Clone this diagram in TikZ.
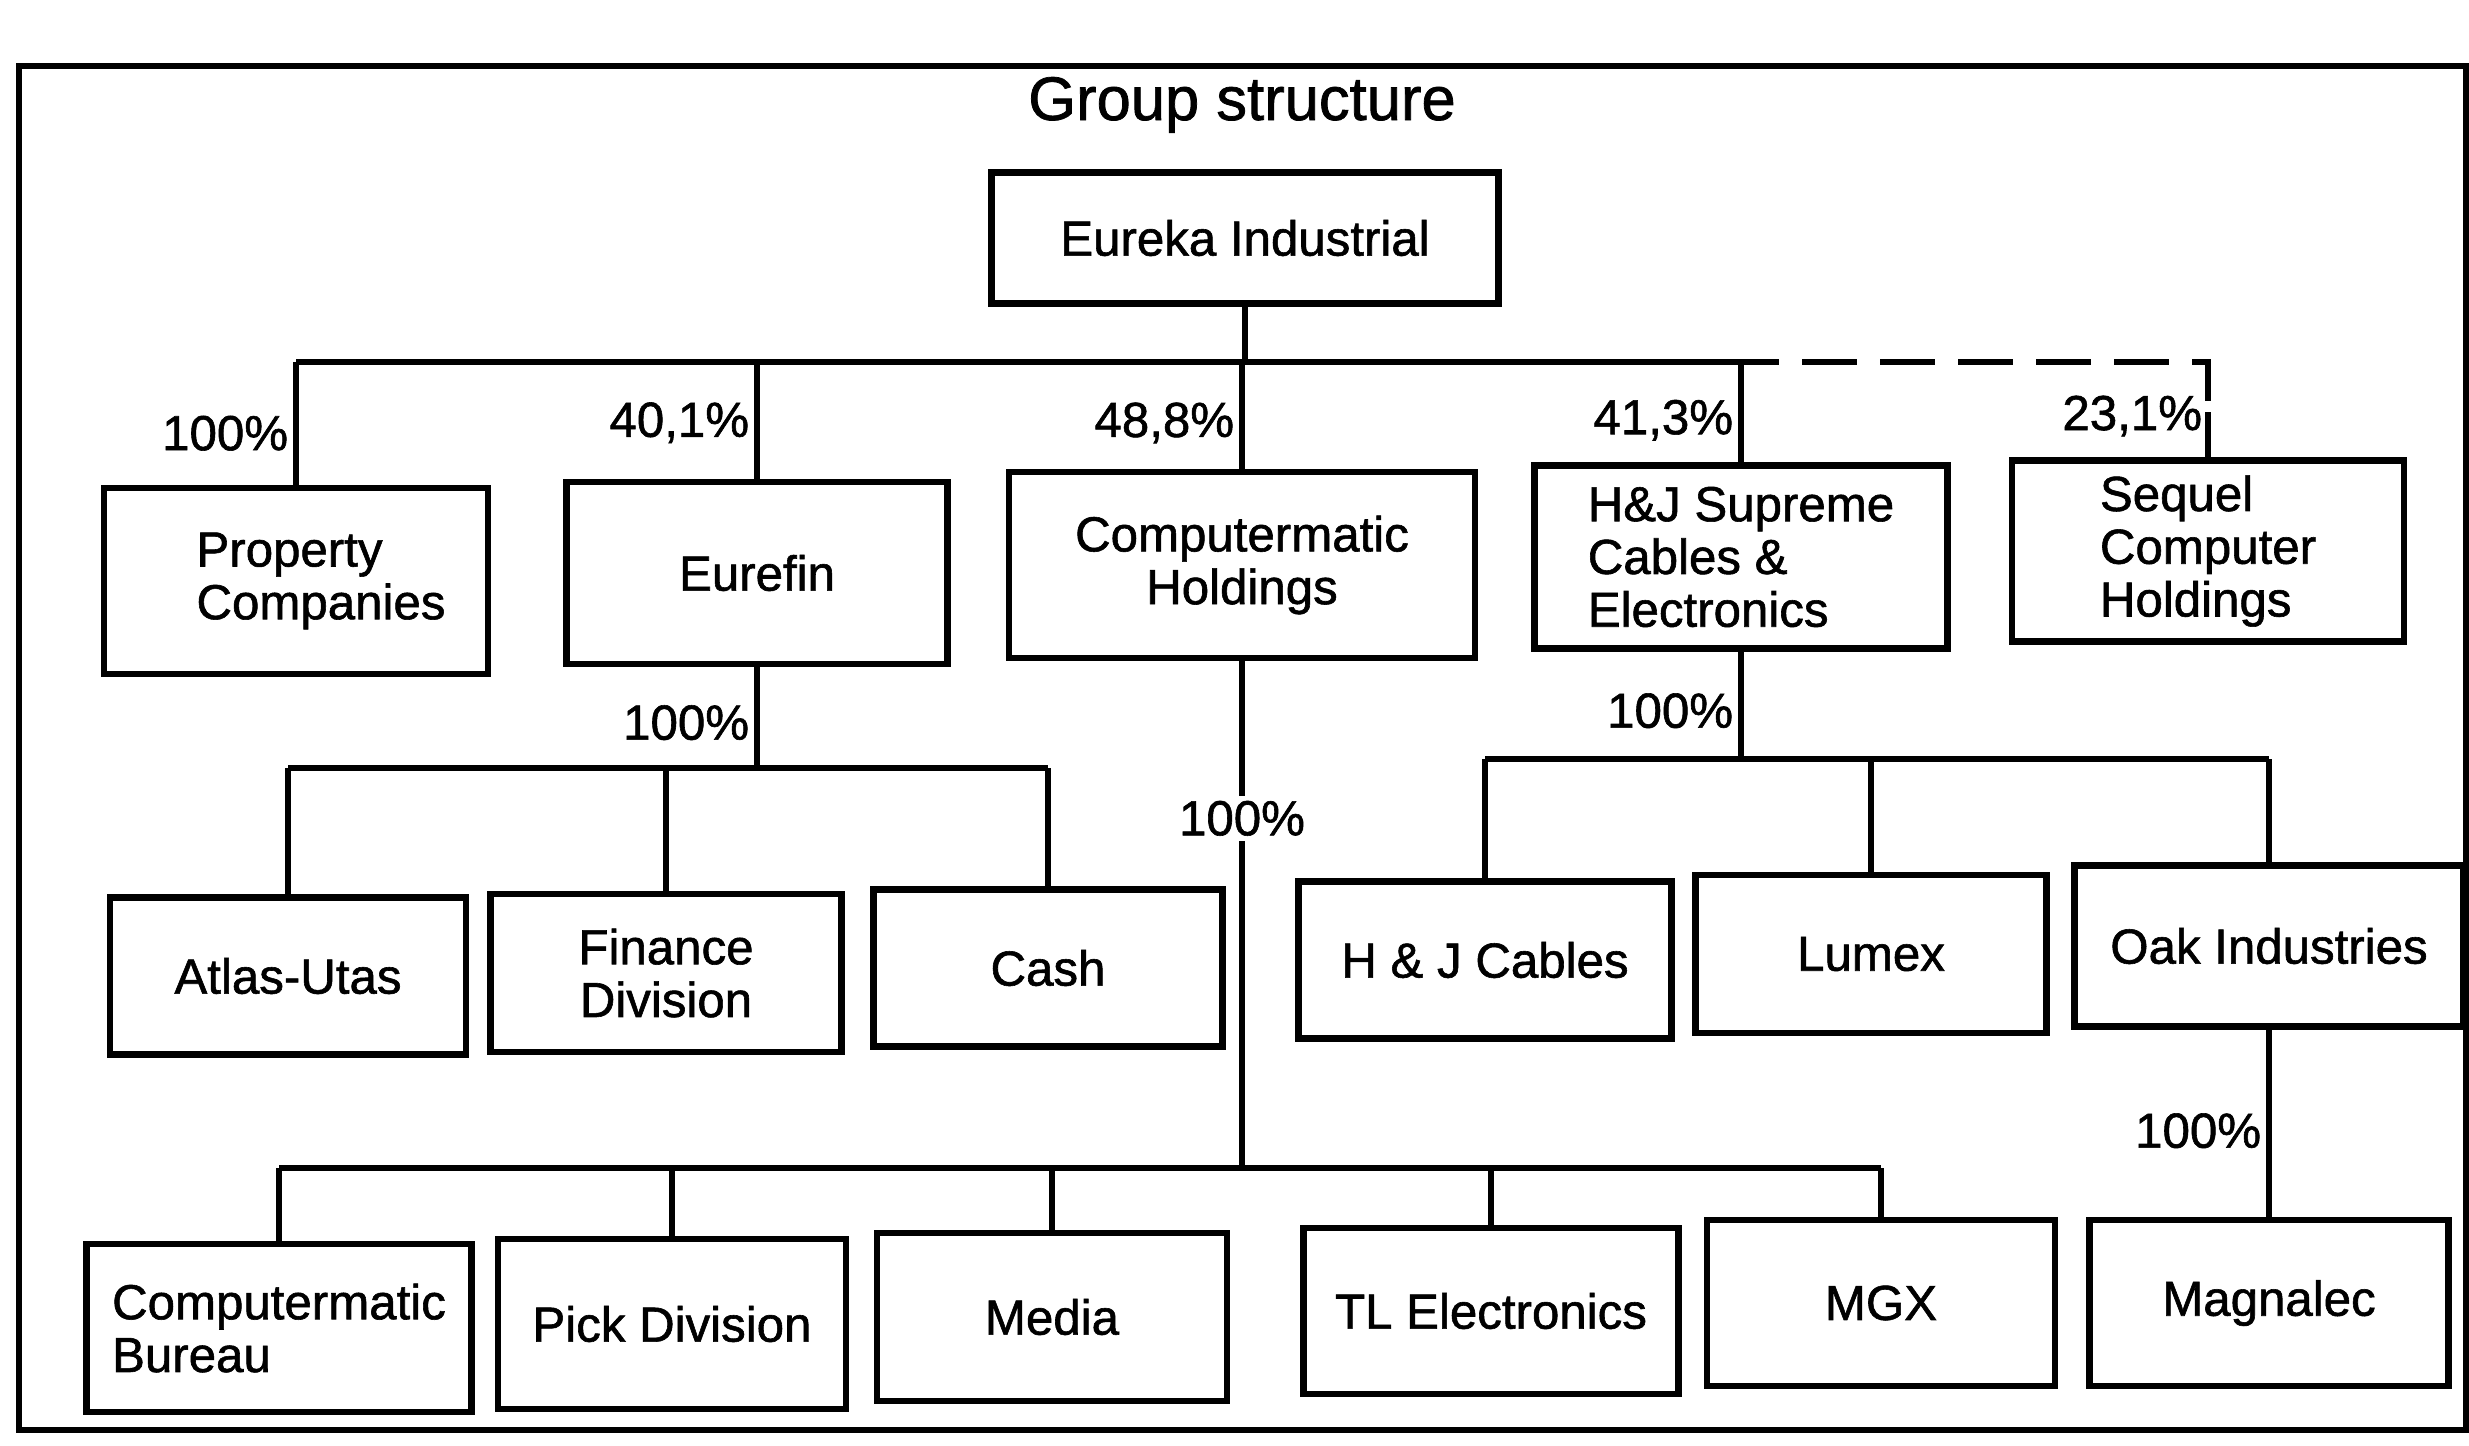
\documentclass[tikz,border=0pt]{standalone}
\usepackage{fontspec}
\setmainfont{Liberation Sans}[FakeBold=1.2]
\usetikzlibrary{positioning,calc}
\newcommand{\unitfont}{\fontsize{14}{15}\selectfont}
\tikzset{
  unit/.style  = {rectangle, draw, line width=1.8pt, align=center, inner sep=4pt, font=\unitfont},
  sz/.style 2 args = {minimum width=#1cm, minimum height=#2cm},
  ln/.style    = {draw, line width=1.5pt},
  dl/.style    = {ln, dash pattern=on 5.5mm off 2.3mm, dash phase=5.5mm},
  pct/.style   = {font=\unitfont, inner sep=1.5pt},
  ttl/.style   = {font=\fontsize{17.5}{19}\selectfont, anchor=base},
  frame/.style = {draw, line width=1.5pt},
}

\begin{document}
\begin{tikzpicture}[x=0.01cm, y=-0.01cm]
  \useasboundingbox (0,0) rectangle (2469,1445);
  \draw[frame] (19,66) rectangle (2466,1430);
  \node[ttl] (title) at (1242,120) {Group structure};

  % top of the group
  \node[unit, sz={5.07}{1.31}] (eureka) at (1245,238) {Eureka Industrial};

  % first tier
  \node[unit, sz={3.84}{1.86}, align=left] (prop) at (296,581) {\hspace*{0.5cm}Property\\\hspace*{0.5cm}Companies};
  \node[unit, sz={3.81}{1.82}] (eurefin) at (757,573) {Eurefin};
  \node[unit, sz={4.66}{1.86}] (cmh) at (1242,565) {Computermatic\\Holdings};
  \node[unit, sz={4.13}{1.83}, align=left] (hj) at (1741,557) {H\&J Supreme\\Cables \&\\Electronics};
  \node[unit, sz={3.92}{1.81}, align=left] (sequel) at (2208,551) {Sequel\\Computer\\Holdings};

  % second tier
  \node[unit, sz={3.56}{1.57}] (atlas) at (288,976) {Atlas-Utas};
  \node[unit, sz={3.51}{1.58}] (fin) at (666,973) {Finance\\Division};
  \node[unit, sz={3.49}{1.57}] (cash) at (1048,968) {Cash};
  \node[unit, sz={3.73}{1.57}] (hjc) at (1485,960) {H \& J Cables};
  \node[unit, sz={3.51}{1.58}] (lumex) at (1871,954) {Lumex};
  \node[unit, sz={3.89}{1.61}] (oak) at (2269,946) {Oak Industries};

  % third tier
  \node[unit, sz={3.85}{1.68}, align=left] (cmb) at (279,1328) {Computermatic\\Bureau};
  \node[unit, sz={3.48}{1.70}] (pick) at (672,1324) {Pick Division};
  \node[unit, sz={3.50}{1.68}] (media) at (1052,1317) {Media};
  \node[unit, sz={3.75}{1.66}] (tl) at (1491,1311) {TL Electronics};
  \node[unit, sz={3.48}{1.66}] (mgx) at (1881,1303) {MGX};
  \node[unit, sz={3.59}{1.66}] (magn) at (2269,1303) {Magnalec};

  % buses
  \coordinate (top) at (1245,362);
  \coordinate (dsh) at (1779,362);
  \coordinate (ebus) at (757,768);
  \coordinate (hbus) at (1741,759);
  \coordinate (cbus) at (1242,1168);

  \draw[ln] (eureka.south) -- (top);
  \draw[ln] (prop.north |- top) -- (dsh);
  \draw[dl] (dsh) -- (sequel.north |- top) -- ++(0,50) coordinate (sqd);
  \draw[ln] (sqd) -- (sequel.north);
  \node[pct, left] (p5) at ($(sqd)+(0,4)$) {23,1\%};
  \draw[ln] (prop.north |- top) -- node[pct, left, pos=0.58]{100\%} (prop.north);
  \draw[ln] (eurefin.north |- top) -- node[pct, left, pos=0.52]{40,1\%} (eurefin.north);
  \draw[ln] (cmh.north |- top) -- node[pct, left, pos=0.57]{48,8\%} (cmh.north);
  \draw[ln] (hj.north |- top) -- node[pct, left, pos=0.58]{41,3\%} (hj.north);

  % Eurefin
  \draw[ln] (eurefin.south) -- node[pct, left, pos=0.55]{100\%} (ebus);
  \draw[ln] (atlas.north |- ebus) -- (cash.north |- ebus);
  \draw[ln] (atlas.north |- ebus) -- (atlas.north);
  \draw[ln] (fin.north |- ebus) -- (fin.north);
  \draw[ln] (cash.north |- ebus) -- (cash.north);

  % H&J Supreme
  \draw[ln] (hj.south) -- node[pct, left, pos=0.55]{100\%} (hbus);
  \draw[ln] (hjc.north |- hbus) -- (oak.north |- hbus);
  \draw[ln] (hjc.north |- hbus) -- (hjc.north);
  \draw[ln] (lumex.north |- hbus) -- (lumex.north);
  \draw[ln] (oak.north |- hbus) -- (oak.north);
  \draw[ln] (oak.south) -- node[pct, left, pos=0.54]{100\%} (magn.north);

  % Computermatic
  \draw[ln] (cmh.south) -- node[pct, fill=white, pos=0.31]{100\%} (cbus);
  \draw[ln] (cmb.north |- cbus) -- (mgx.north |- cbus);
  \draw[ln] (cmb.north |- cbus) -- (cmb.north);
  \draw[ln] (pick.north |- cbus) -- (pick.north);
  \draw[ln] (media.north |- cbus) -- (media.north);
  \draw[ln] (tl.north |- cbus) -- (tl.north);
  \draw[ln] (mgx.north |- cbus) -- (mgx.north);
\end{tikzpicture}
\end{document}
